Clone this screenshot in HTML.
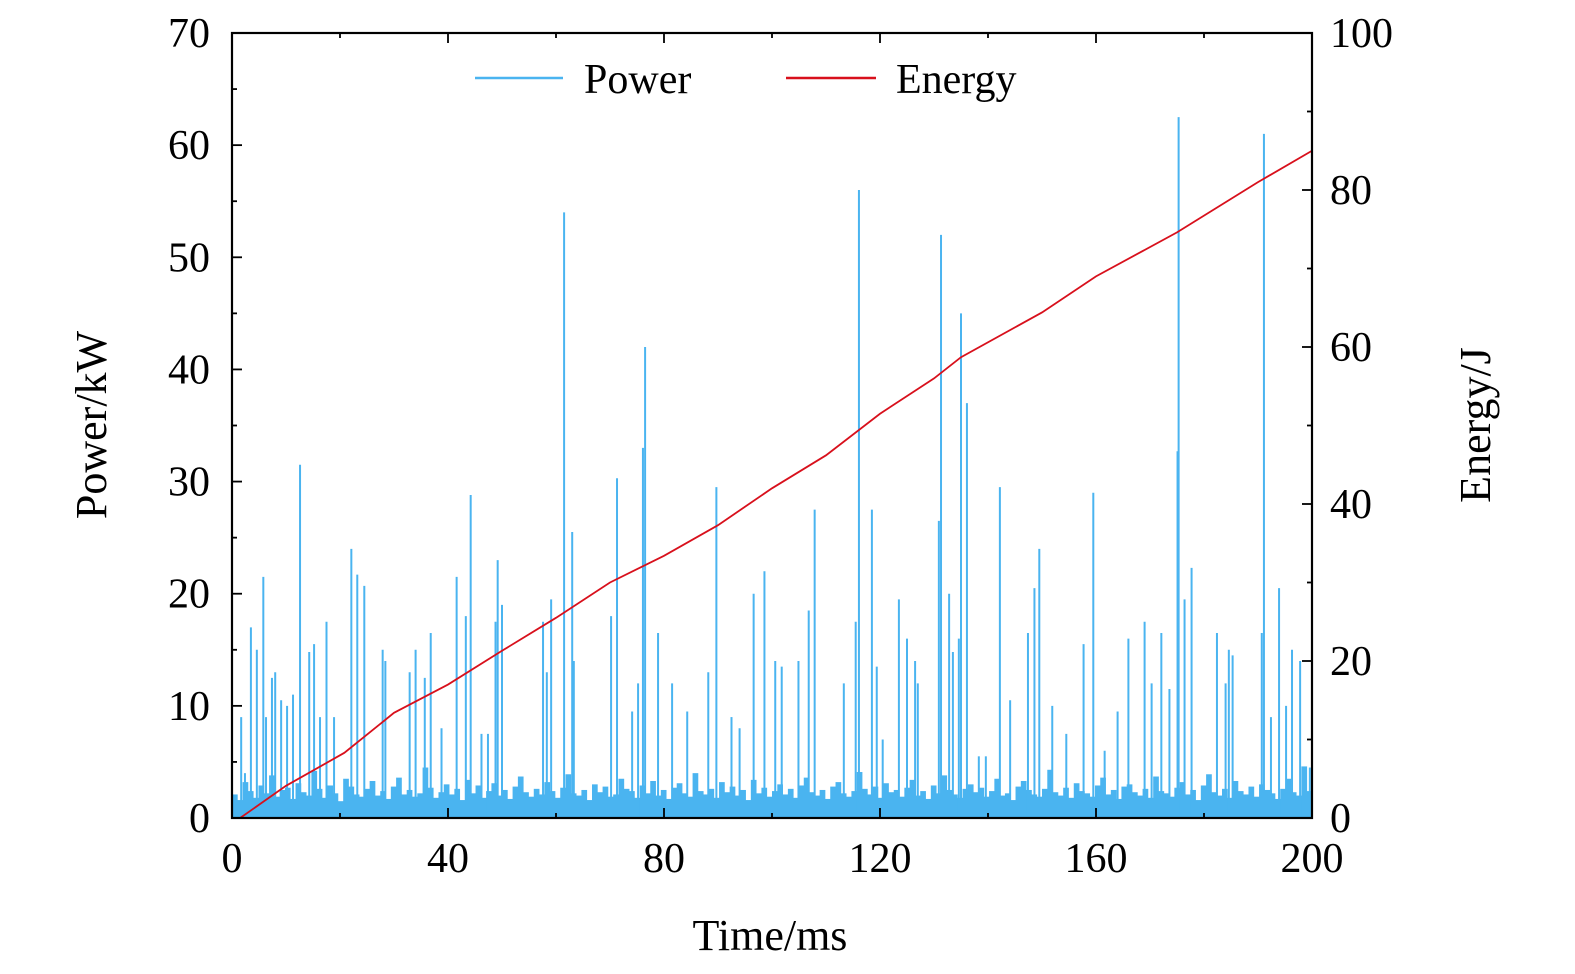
<!DOCTYPE html>
<html><head><meta charset="utf-8"><style>
html,body{margin:0;padding:0;background:#fff;overflow:hidden;width:1575px;height:974px}
svg{display:block}
text{font-family:"Liberation Serif","DejaVu Serif",serif;fill:#000}
</style></head><body>
<svg id="chart" width="1575" height="974" viewBox="0 0 1575 974" xmlns="http://www.w3.org/2000/svg">
<g id="bars"></g>
<path id="energy" fill="none" stroke="#d8101c" stroke-width="1.8"/>
<g id="axes"></g>
<g>
<line x1="475" y1="78" x2="563" y2="78" stroke="#4ab4f0" stroke-width="2.5"/>
<text x="584" y="93" font-size="42">Power</text>
<line x1="786" y1="78" x2="876" y2="78" stroke="#d8101c" stroke-width="2.5"/>
<text x="896" y="93" font-size="42">Energy</text>
</g>
<text x="770" y="950" font-size="44" text-anchor="middle">Time/ms</text>
<text transform="translate(106,425) rotate(-90)" font-size="44" text-anchor="middle">Power/kW</text>
<text transform="translate(1490,425) rotate(-90)" font-size="44" text-anchor="middle">Energy/J</text>
</svg>
<script>
const spikeTimes=[1.7,2.4,3.5,4.6,5.8,6.3,7.4,8.0,9.1,10.2,11.3,12.6,14.3,15.2,16.3,17.5,18.9,22.1,23.2,24.5,27.9,28.4,32.9,34.0,35.7,36.8,38.8,41.6,43.3,44.2,46.2,47.4,48.8,49.2,50.0,57.6,58.3,59.1,61.5,63.0,63.3,70.2,71.3,74.1,75.2,76.1,76.5,78.9,81.5,84.3,88.2,89.7,92.5,94.0,96.6,98.6,100.6,101.8,104.9,106.8,107.9,113.3,115.5,116.1,118.5,119.4,120.5,123.5,125.0,126.5,127.0,130.9,131.3,132.8,133.5,134.6,135.0,136.1,138.3,139.6,142.2,144.1,147.4,148.6,149.5,151.9,154.5,157.7,159.5,161.6,164.0,166.0,169.0,170.3,172.1,173.6,175.1,175.3,176.4,177.7,182.4,184.0,184.6,185.3,190.7,191.1,192.4,193.9,195.2,196.3,197.8,199.6];
const spikePower=[9,4,17,15,21.5,9,12.5,13,10.5,10,11,31.5,14.8,15.5,9,17.5,9,24,21.7,20.7,15,14,13,15,12.5,16.5,8,21.5,18,28.8,7.5,7.5,17.5,23,19,17.5,13,19.5,54,25.5,14,18,30.3,9.5,12,33,42,16.5,12,9.5,13,29.5,9,8,20,22,14,13.5,14,18.5,27.5,12,17.5,56,27.5,13.5,7,19.5,16,14,12,26.5,52,20,14.8,16,45,37,5.5,5.5,29.5,10.5,16.5,20.5,24,10,7.5,15.5,29,6,9.5,16,17.5,12,16.5,11.5,32.7,62.5,19.5,22.3,16.5,12,15,14.5,16.5,61,9,20.5,10,15,14,4.5];
const basePower=[2.1,1.6,3.2,2.4,1.8,2.9,2.2,3.8,1.9,2.5,2.7,1.7,3.1,2.3,2.0,4.2,2.6,1.8,2.9,2.2,1.5,3.5,2.8,2.1,1.9,2.6,3.3,2.0,2.4,1.7,2.8,3.6,2.1,2.5,1.9,2.2,4.5,2.7,1.8,2.3,3.0,2.1,2.6,1.6,3.4,2.2,2.9,1.8,2.4,3.1,2.0,2.5,1.7,2.8,3.7,2.3,1.9,2.6,2.1,3.2,2.4,1.8,2.7,3.9,2.2,2.0,2.5,1.6,3.0,2.3,2.8,1.9,2.1,3.5,2.6,2.4,1.8,2.9,2.2,3.3,2.0,2.5,1.7,2.7,3.1,2.2,1.9,4.0,2.4,2.1,2.6,1.8,3.2,2.3,2.8,2.0,2.5,1.6,3.4,2.2,2.7,1.9,2.4,3.0,2.1,2.6,1.8,2.9,3.6,2.3,2.0,2.5,1.7,2.8,3.2,2.2,1.9,2.4,4.1,2.6,2.1,2.8,1.8,3.1,2.3,2.5,1.9,2.7,3.4,2.0,2.4,1.7,2.9,2.2,3.8,2.5,2.1,1.8,2.6,3.0,2.3,2.7,1.9,2.4,3.5,2.0,2.2,1.6,2.8,3.3,2.5,2.1,1.9,2.6,4.3,2.3,2.0,2.7,1.8,3.1,2.4,2.2,1.9,2.9,3.6,2.1,2.5,1.7,2.8,3.0,2.3,2.0,2.6,1.8,3.7,2.4,2.2,1.9,2.7,3.2,2.1,2.5,1.6,2.9,3.9,2.3,2.0,2.6,1.8,3.3,2.4,2.1,2.8,1.9,3.0,2.5,2.2,1.7,2.6,3.5,2.3,2.0,4.6,2.4];
const energyTimes=[1.5,10,20.8,30,40,50,60,70,80,90,100,110,120,130,135,150,160,175,190,200];
const energyValues=[0,4.1,8.3,13.4,17,21.3,25.5,30,33.4,37.3,42,46.2,51.5,56,58.7,64.4,69,74.6,81,85];
const xTicks=[0,40,80,120,160,200];
const leftTicks=[0,10,20,30,40,50,60,70];
const rightTicks=[0,20,40,60,80,100];

const L=232,R=1312,T=33,B=818;
const xs=t=>L+(t/200)*(R-L);
const yl=v=>B-(v/70)*(B-T);
const yr=v=>B-(v/100)*(B-T);
const NS="http://www.w3.org/2000/svg";
function mk(tag,attrs,parent){const e=document.createElementNS(NS,tag);for(const k in attrs)e.setAttribute(k,attrs[k]);parent.appendChild(e);return e;}

const bars=document.getElementById('bars');
const bw=(R-L)/basePower.length;
basePower.forEach((v,i)=>{
  const r=mk('rect',{x:xs(i*200/basePower.length),y:yl(v),width:bw+0.4,height:B-yl(v),fill:'#4ab4f0'},bars);
  
  
});
spikeTimes.forEach((t,i)=>{
  const l=mk('line',{x1:xs(t),x2:xs(t),y1:B,y2:yl(spikePower[i]),stroke:'#4ab4f0','stroke-width':2},bars);
  
  
});
document.getElementById('energy').setAttribute('d',energyTimes.map((t,i)=>(i?'L':'M')+xs(t)+','+yr(energyValues[i])).join(''));

const ax=document.getElementById('axes');
mk('rect',{x:L,y:T,width:R-L,height:B-T,fill:'none',stroke:'#000','stroke-width':2.2},ax);
function tick(x1,y1,x2,y2){mk('line',{x1,y1,x2,y2,stroke:'#000','stroke-width':1.8},ax);}
for(let v=0;v<=200;v+=20){const x=xs(v),len=v%40===0?10:5;tick(x,B,x,B-len);tick(x,T,x,T+len);}
for(let v=0;v<=70;v+=5){const y=yl(v),len=v%10===0?10:5;tick(L,y,L+len,y);}
for(let v=0;v<=100;v+=10){const y=yr(v),len=v%20===0?10:5;tick(R,y,R-len,y);}
xTicks.forEach(v=>{const t=mk('text',{x:xs(v),y:872,'font-size':42,'text-anchor':'middle'},ax);t.textContent=v;
  });
leftTicks.forEach(v=>{const t=mk('text',{x:210,y:yl(v)+14,'font-size':42,'text-anchor':'end'},ax);t.textContent=v;
  });
rightTicks.forEach(v=>{const t=mk('text',{x:1330,y:yr(v)+14,'font-size':42,'text-anchor':'start'},ax);t.textContent=v;
  });
</script>
</body></html>
